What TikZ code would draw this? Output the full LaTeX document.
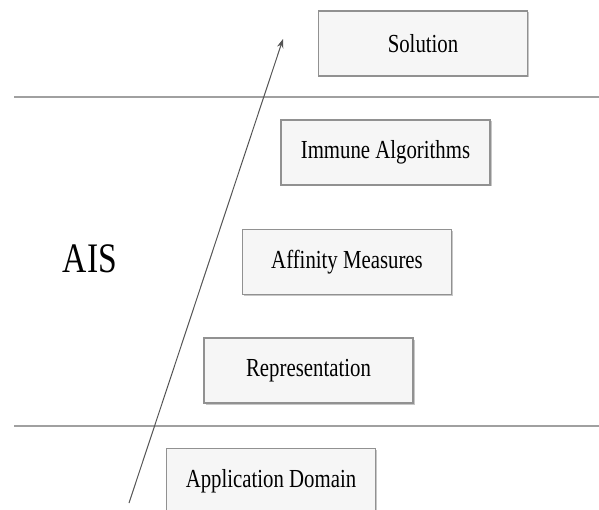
\documentclass[tikz,border=0pt]{standalone}
\usepackage{fontspec}
\setmainfont{Liberation Serif}
\usepackage{graphicx}
\usepackage{tikz}
\usetikzlibrary{arrows.meta,shadows}
\definecolor{layergray}{RGB}{160,160,160}
\definecolor{boxedge}{RGB}{145,145,145}
\definecolor{boxfill}{RGB}{246,246,246}
\definecolor{arrowgray}{RGB}{85,85,85}
\newcommand{\narrowtext}[1]{\scalebox{0.8}[1]{#1}}
\tikzset{
  stagebox/.style={rectangle, draw=boxedge, fill=boxfill, line width=1.3pt,
                   minimum width=209pt, minimum height=65pt, inner sep=0pt,
                   font=\fontsize{26}{30}\selectfont,
                   drop shadow={shadow xshift=1.5pt, shadow yshift=-1.5pt,
                                fill=black, opacity=0.22}},
  layerline/.style={line width=1.8pt, layergray},
  levelarrow/.style={-{Stealth[length=9pt, width=6.5pt]}, line width=1pt, arrowgray},
  aislabel/.style={font=\fontsize{42}{46}\selectfont, anchor=base},
}
\begin{document}
\begin{tikzpicture}[x=1pt, y=-1pt]
  \useasboundingbox[fill=white] (0,0) rectangle (599,510);
  \clip (0,0) rectangle (599,510);
  % layer boundaries
  \coordinate (topL) at (14,97);
  \coordinate (topR) at (599,97);
  \coordinate (botL) at (14,426);
  \coordinate (botR) at (599,426);
  \draw[layerline] (topL) -- (topR);
  \draw[layerline] (botL) -- (botR);
  % stages
  \node[stagebox] (solution)  at (423,43.5)  {\narrowtext{Solution}};
  \node[stagebox] (immune)    at (385.5,152.5) {\narrowtext{Immune Algorithms}};
  \node[stagebox] (affinity)  at (347,262)   {\narrowtext{Affinity Measures}};
  \node[stagebox] (represent) at (308.5,370.5) {\narrowtext{Representation}};
  \node[stagebox] (domain)    at (271,481)   {\narrowtext{Application Domain}};
  \node[aislabel] (ais) at (90,273) {\narrowtext{AIS}};
  % direction of the stack
  \coordinate (tail) at (129,503);
  \coordinate (tip) at (283,39);
  \draw[levelarrow] (tail) -- (tip);
\end{tikzpicture}
\end{document}
